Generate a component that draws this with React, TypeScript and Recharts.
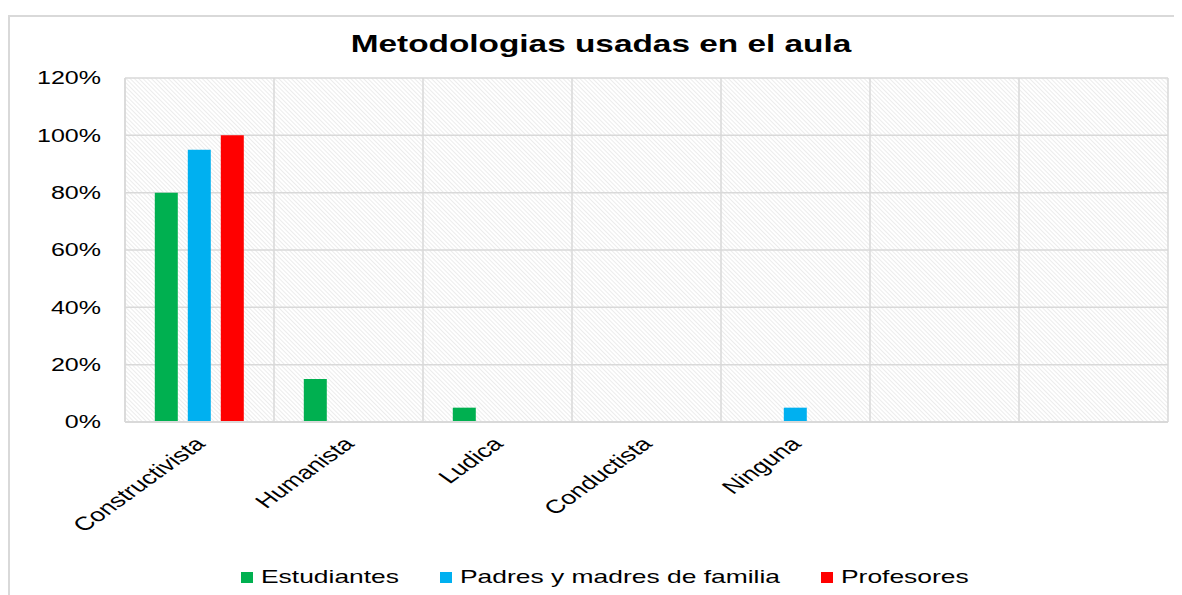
import React, { useLayoutEffect, useRef, useState } from "react";
import { BarChart, Bar, XAxis, YAxis, CartesianGrid, Legend } from "recharts";

const categories = ["Constructivista", "Humanista", "Ludica", "Conductista", "Ninguna", "", " "];
const estudiantes = [80, 15, 5, null, null, null, null];
const padres = [95, null, null, null, 5, null, null];
const profesores = [100, null, null, null, null, null, null];
const yTicks = [0, 20, 40, 60, 80, 100, 120];

const seriesNames = ["Estudiantes", "Padres y madres de familia", "Profesores"];
const seriesColors = ["#00B050", "#00B0F0", "#FF0000"];

const data = categories.map((c, i) => ({
  name: c,
  s0: estudiantes[i],
  s1: padres[i],
  s2: profesores[i],
}));

const SX = 1.39;
const FONT = "'Liberation Sans', Arial, sans-serif";

const YTick = (props: any) => {
  const { x, y, payload } = props;
  return (
    <text
      transform={`translate(${x},${y}) scale(${SX},1)`}
      textAnchor="end"
      dy="0.355em"
      fontSize={18}
      fontFamily={FONT}
      fill="#000"
    >
      {payload.value}%
    </text>
  );
};

const XTick = (props: any) => {
  const { x, y, payload } = props;
  return (
    <text
      transform={`translate(${x + 7},${y + 23}) scale(${SX},1) rotate(-45)`}
      textAnchor="end"
      fontSize={19}
      fontFamily={FONT}
      fill="#000"
    >
      {payload.value}
    </text>
  );
};

const StretchedText = ({ text }: { text: string }) => {
  const ref = useRef<HTMLSpanElement>(null);
  const [w, setW] = useState(0);
  useLayoutEffect(() => {
    if (ref.current) setW(ref.current.offsetWidth);
  }, [text]);
  return (
    <div style={{ width: w * SX, height: 22, position: "relative" }}>
      <span
        ref={ref}
        style={{
          position: "absolute",
          left: 0,
          top: 0,
          fontSize: 19,
          lineHeight: "22px",
          color: "#000",
          whiteSpace: "nowrap",
          transform: `scaleX(${SX})`,
          transformOrigin: "0 0",
        }}
      >
        {text}
      </span>
    </div>
  );
};

const LegendContent = () => (
  <div style={{ display: "flex", justifyContent: "center", alignItems: "center", height: 24, fontFamily: FONT, paddingLeft: 34 }}>
    {seriesNames.map((n, i) => (
      <div key={n} style={{ display: "flex", alignItems: "center", marginRight: i < 2 ? 41 : 0 }}>
        <div style={{ width: 12, height: 11, background: seriesColors[i], marginRight: 8 }} />
        <StretchedText text={n} />
      </div>
    ))}
  </div>
);

export default function App() {
  return (
    <div style={{ position: "relative", width: 1174, height: 587, fontFamily: FONT }}>
      <svg width={0} height={0} style={{ position: "absolute" }}>
        <defs>
          <pattern id="hatch" patternUnits="userSpaceOnUse" width={3} height={3} patternTransform="rotate(-45)">
            <rect x={0} y={0} width={3} height={3} fill="#ffffff" />
            <line x1={0} y1={0} x2={0} y2={3} stroke="#e0e0e0" strokeWidth={1.2} />
          </pattern>
        </defs>
      </svg>
      <div
        style={{
          position: "absolute",
          left: 0,
          top: 7,
          width: 1180,
          height: 600,
          borderLeft: "2px solid #d9d9d9",
          borderTop: "2px solid #d9d9d9",
          boxSizing: "border-box",
        }}
      />
      <div
        style={{
          position: "absolute",
          left: 0,
          width: 1186,
          top: 22,
          textAlign: "center",
          fontSize: 24,
          fontWeight: "bold",
          color: "#000",
          transform: `scaleX(${SX})`,
          transformOrigin: "593px 0",
          whiteSpace: "nowrap",
        }}
      >
        Metodologias usadas en el aula
      </div>
      <div style={{ position: "absolute", left: 0, top: 0 }}>
        <BarChart
          width={1174}
          height={587}
          data={data}
          margin={{ top: 70, right: 14, left: 0, bottom: 6 }}
          barCategoryGap="20%"
          barGap={10}
        >
          <CartesianGrid
            stroke="#d9d9d9"
            strokeWidth={1.5}
            fill="url(#hatch)"
            fillOpacity={1}
            verticalCoordinatesGenerator={({ offset }: any) =>
              categories.map((_, i) => offset.left + (i * offset.width) / categories.length).concat([offset.left + offset.width])
            }
          />
          <XAxis
            dataKey="name"
            interval={0}
            tick={<XTick />}
            tickLine={false}
            tickSize={0}
            tickMargin={0}
            height={143}
            axisLine={{ stroke: "#d9d9d9", strokeWidth: 2 }}
          />
          <YAxis
            width={117}
            domain={[0, 120]}
            ticks={yTicks}
            tick={<YTick />}
            tickLine={false}
            tickSize={0}
            tickMargin={24}
            axisLine={{ stroke: "#d9d9d9", strokeWidth: 1.5 }}
            interval={0}
          />
          <Legend verticalAlign="bottom" content={<LegendContent />} />
          {["s0", "s1", "s2"].map((k, i) => (
            <Bar key={k} dataKey={k} name={seriesNames[i]} fill={seriesColors[i]} isAnimationActive={false} />
          ))}
        </BarChart>
      </div>
    </div>
  );
}
